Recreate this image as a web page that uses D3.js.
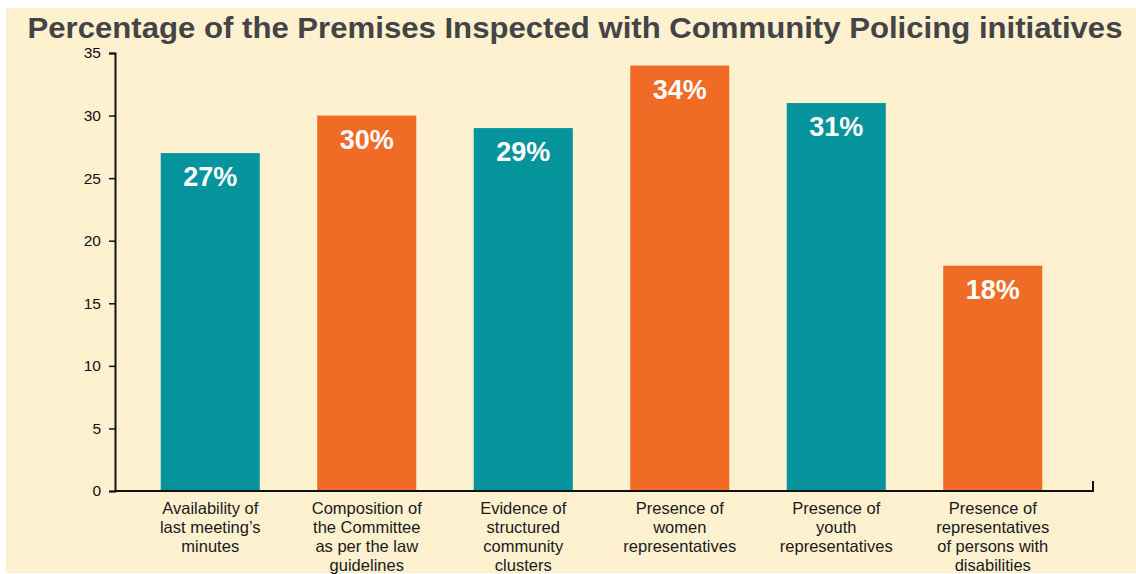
<!DOCTYPE html>
<html>
<head>
<meta charset="utf-8">
<script src="https://cdn.jsdelivr.net/npm/d3@7"></script>
<style>
  body { margin: 0; background: #fff; }
  text { font-family: "Liberation Sans", Arial, Helvetica, sans-serif; }
</style>
</head>
<body>
<div id="chart"></div>
<script>
const categories = [
  ['Availability of', 'last meeting\u2019s', 'minutes'],
  ['Composition of', 'the Committee', 'as per the law', 'guidelines'],
  ['Evidence of', 'structured', 'community', 'clusters'],
  ['Presence of', 'women', 'representatives'],
  ['Presence of', 'youth', 'representatives'],
  ['Presence of', 'representatives', 'of persons with', 'disabilities']
]
const values = [27, 30, 29, 34, 31, 18]
const yTicks = [0, 5, 10, 15, 20, 25, 30, 35]
const barColors = ['#05949c', '#f06b25']
const title = 'Percentage of the Premises Inspected with Community Policing initiatives'

const width = 1136
const height = 574

const svg = d3.select('#chart')
  .append('svg')
  .attr('width', width)
  .attr('height', height)

svg.append('rect')
  .attr('x', 6)
  .attr('y', 8)
  .attr('width', width - 6)
  .attr('height', height - 9)
  .attr('fill', '#fef1cf')

svg.append('text')
  .attr('x', 575)
  .attr('y', 38)
  .attr('text-anchor', 'middle')
  .attr('fill', '#444446')
  .style('font-size', '30px')
  .style('font-weight', 'bold')
  .attr('textLength', 1095)
  .attr('lengthAdjust', 'spacingAndGlyphs')
  .text(title)

const idx = d3.range(values.length)

const xScale = d3.scaleBand()
  .domain(idx)
  .range([132, 1071])
  .paddingInner(0.367)
  .paddingOuter(0.1835)

const yScale = d3.scaleLinear()
  .domain([0, 35])
  .range([491, 53])

// y axis
const yAxis = d3.axisLeft(yScale)
  .tickValues(yTicks)
  .tickSize(6)
  .tickPadding(8)

const yAxisGroup = svg.append('g')
  .attr('transform', 'translate(115, 0)')
  .call(yAxis)
yAxisGroup.select('.domain').attr('stroke', '#111').attr('stroke-width', 2)
yAxisGroup.selectAll('.tick line').attr('stroke', '#111').attr('stroke-width', 1.5)
yAxisGroup.selectAll('.tick text')
  .attr('fill', '#111')
  .style('font-size', '15.5px')
  .style('font-family', '"Liberation Sans", Arial, sans-serif')

// bars
svg.selectAll('rect.bar')
  .data(idx)
  .join('rect')
  .attr('class', 'bar')
  .attr('x', i => xScale(i))
  .attr('y', i => yScale(values[i]))
  .attr('width', xScale.bandwidth())
  .attr('height', i => yScale(0) - yScale(values[i]))
  .attr('fill', i => barColors[i % 2])

// x axis line
svg.append('path')
  .attr('d', `M115,${yScale(0)}H1093V${yScale(0) - 10}`)
  .attr('fill', 'none')
  .attr('stroke', '#111')
  .attr('stroke-width', 2)

// value labels
svg.selectAll('text.value')
  .data(idx)
  .join('text')
  .attr('class', 'value')
  .attr('x', i => xScale(i) + xScale.bandwidth() / 2)
  .attr('y', i => yScale(values[i]) + 33)
  .attr('text-anchor', 'middle')
  .attr('fill', '#fff')
  .style('font-size', '27px')
  .style('font-weight', 'bold')
  .text(i => `${values[i]}%`)

// category labels
const catGroups = svg.selectAll('text.cat')
  .data(idx)
  .join('text')
  .attr('class', 'cat')
  .attr('text-anchor', 'middle')
  .attr('fill', '#1a1a1a')
  .style('font-size', '16.5px')

catGroups.selectAll('tspan')
  .data(i => categories[i].map(line => ({ i, line })))
  .join('tspan')
  .attr('x', d => xScale(d.i) + xScale.bandwidth() / 2)
  .attr('y', (d, k) => 514 + k * 19)
  .text(d => d.line)
</script>
</body>
</html>
